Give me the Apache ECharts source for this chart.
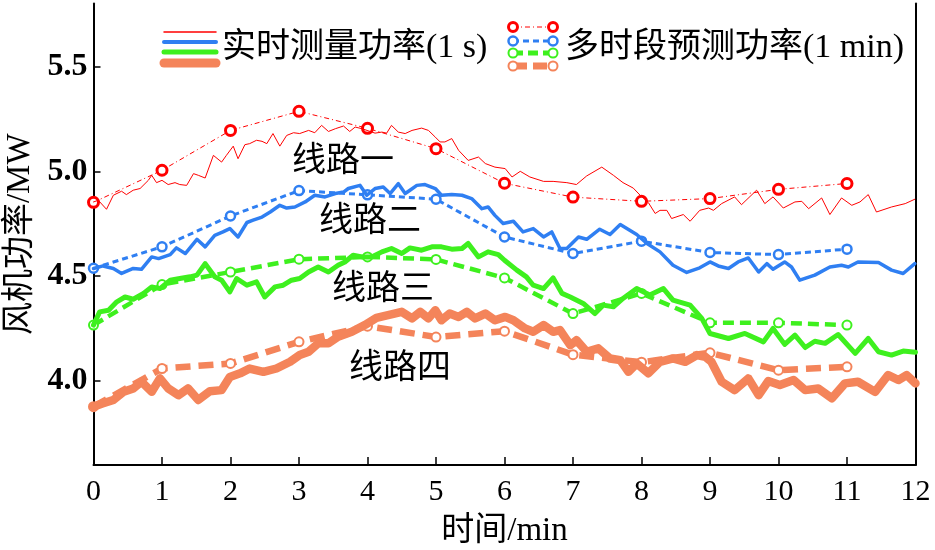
<!DOCTYPE html>
<html><head><meta charset="utf-8">
<script src="https://cdn.jsdelivr.net/npm/echarts@6/dist/echarts.min.js"></script>
<style>html,body{margin:0;padding:0;background:#fff}#c{width:935px;height:550px}</style>
</head><body><div id="c"></div>
<script>
// ---- data ----
const yTicks = [4.0, 4.5, 5.0, 5.5];
const predT = [0,1,2,3,4,5,6,7,8,9,10,11];
const predRed    = [4.852,5.005,5.195,5.286,5.205,5.108,4.943,4.877,4.857,4.870,4.914,4.942];
const predBlue   = [4.538,4.640,4.787,4.908,4.888,4.867,4.687,4.608,4.667,4.613,4.603,4.629];
const predGreen  = [4.267,4.460,4.520,4.581,4.592,4.580,4.492,4.322,4.418,4.278,4.278,4.267];
const predOrange = [3.878,4.060,4.084,4.187,4.262,4.210,4.238,4.126,4.090,4.135,4.052,4.068];

const realRed = [[0,4.854],[0.07,4.862],[0.19,4.819],[0.29,4.886],[0.41,4.905],[0.48,4.889],[0.58,4.910],[0.68,4.918],[0.80,4.957],[0.85,4.981],[0.92,4.946],[1.00,4.957],[1.09,4.937],[1.19,4.946],[1.26,4.937],[1.36,4.933],[1.46,4.989],[1.53,4.981],[1.63,4.968],[1.75,5.076],[1.87,5.044],[1.94,5.076],[2.04,5.120],[2.11,5.060],[2.21,5.127],[2.28,5.132],[2.38,5.148],[2.46,5.143],[2.53,5.132],[2.62,5.180],[2.72,5.120],[2.82,5.171],[2.92,5.184],[3.01,5.180],[3.14,5.195],[3.23,5.184],[3.33,5.219],[3.43,5.190],[3.53,5.203],[3.65,5.216],[3.74,5.190],[3.82,5.211],[3.92,5.203],[4.11,5.182],[4.21,5.187],[4.28,5.182],[4.35,5.219],[4.45,5.187],[4.55,5.180],[4.65,5.195],[4.79,5.206],[4.89,5.195],[4.99,5.163],[5.06,5.140],[5.13,5.140],[5.23,5.156],[5.33,5.100],[5.47,5.052],[5.62,5.068],[5.72,5.037],[5.86,5.020],[6.01,5.013],[6.11,4.973],[6.23,5.000],[6.37,4.973],[6.57,4.952],[6.71,4.952],[6.91,4.946],[7.05,4.937],[7.20,4.978],[7.42,5.020],[7.59,4.981],[7.73,4.946],[7.88,4.920],[7.98,4.886],[8.10,4.851],[8.20,4.799],[8.27,4.814],[8.37,4.814],[8.44,4.775],[8.61,4.794],[8.71,4.762],[8.85,4.814],[8.98,4.825],[9.05,4.814],[9.17,4.846],[9.36,4.878],[9.46,4.841],[9.68,4.910],[9.80,4.846],[9.92,4.878],[10.07,4.825],[10.24,4.854],[10.34,4.857],[10.44,4.822],[10.63,4.873],[10.75,4.794],[10.92,4.873],[11.07,4.838],[11.19,4.854],[11.31,4.889],[11.43,4.806],[11.65,4.830],[11.85,4.846],[11.99,4.867]];

const realBlue = [[0,4.537],[0.14,4.549],[0.29,4.537],[0.41,4.513],[0.58,4.537],[0.70,4.533],[0.85,4.592],[0.95,4.584],[1.12,4.603],[1.21,4.635],[1.34,4.608],[1.51,4.676],[1.63,4.640],[1.77,4.695],[1.89,4.711],[1.99,4.727],[2.11,4.687],[2.24,4.756],[2.33,4.767],[2.46,4.782],[2.58,4.806],[2.72,4.838],[2.82,4.825],[2.94,4.830],[3.09,4.854],[3.23,4.886],[3.38,4.878],[3.53,4.894],[3.65,4.901],[3.72,4.918],[3.89,4.933],[3.99,4.886],[4.11,4.918],[4.23,4.925],[4.33,4.894],[4.45,4.941],[4.55,4.894],[4.62,4.910],[4.72,4.933],[4.84,4.937],[4.99,4.918],[5.08,4.886],[5.23,4.889],[5.38,4.886],[5.52,4.870],[5.67,4.822],[5.76,4.830],[5.86,4.790],[5.98,4.751],[6.13,4.762],[6.27,4.711],[6.42,4.727],[6.57,4.687],[6.69,4.711],[6.81,4.632],[6.91,4.632],[7.08,4.687],[7.20,4.676],[7.39,4.724],[7.54,4.699],[7.69,4.746],[7.93,4.699],[8.08,4.656],[8.27,4.616],[8.46,4.552],[8.66,4.518],[8.85,4.540],[9.00,4.568],[9.12,4.549],[9.27,4.537],[9.41,4.568],[9.56,4.587],[9.71,4.520],[9.83,4.560],[9.92,4.533],[10.09,4.568],[10.19,4.544],[10.31,4.481],[10.53,4.505],[10.75,4.544],[10.92,4.552],[11.02,4.544],[11.16,4.568],[11.46,4.565],[11.65,4.529],[11.82,4.513],[11.99,4.560]];

const realGreen = [[0,4.267],[0.09,4.330],[0.22,4.338],[0.34,4.378],[0.46,4.401],[0.58,4.390],[0.73,4.418],[0.85,4.449],[0.97,4.441],[1.12,4.481],[1.26,4.489],[1.41,4.497],[1.51,4.505],[1.63,4.560],[1.77,4.497],[1.87,4.481],[1.99,4.425],[2.09,4.489],[2.24,4.457],[2.38,4.473],[2.50,4.401],[2.65,4.449],[2.77,4.457],[2.89,4.481],[3.01,4.489],[3.14,4.520],[3.28,4.544],[3.43,4.520],[3.57,4.552],[3.67,4.568],[3.79,4.600],[3.92,4.592],[4.06,4.592],[4.21,4.616],[4.35,4.632],[4.50,4.608],[4.62,4.635],[4.79,4.624],[4.94,4.640],[5.08,4.640],[5.23,4.629],[5.38,4.632],[5.47,4.656],[5.62,4.592],[5.76,4.616],[5.91,4.603],[6.00,4.576],[6.18,4.529],[6.32,4.497],[6.42,4.457],[6.57,4.441],[6.71,4.492],[6.84,4.418],[6.96,4.401],[7.15,4.370],[7.32,4.322],[7.44,4.362],[7.59,4.354],[7.73,4.394],[7.93,4.441],[8.12,4.410],[8.32,4.441],[8.46,4.386],[8.71,4.362],[8.88,4.299],[9.00,4.227],[9.27,4.203],[9.51,4.227],[9.78,4.187],[9.92,4.251],[10.09,4.175],[10.24,4.219],[10.39,4.160],[10.53,4.190],[10.68,4.180],[10.87,4.222],[11.12,4.132],[11.31,4.203],[11.46,4.140],[11.65,4.124],[11.82,4.143],[12.00,4.137]];

const realOrange = [[0,3.878],[0.14,3.894],[0.29,3.910],[0.44,3.949],[0.58,3.965],[0.70,3.997],[0.85,3.949],[0.97,4.013],[1.09,3.965],[1.24,3.933],[1.38,3.965],[1.53,3.910],[1.70,3.952],[1.87,3.957],[1.99,4.020],[2.14,4.037],[2.28,4.060],[2.48,4.044],[2.67,4.060],[2.87,4.092],[3.01,4.124],[3.14,4.140],[3.28,4.180],[3.43,4.180],[3.57,4.211],[3.77,4.235],[3.96,4.267],[4.13,4.301],[4.30,4.314],[4.50,4.330],[4.65,4.299],[4.77,4.330],[4.89,4.299],[4.99,4.338],[5.08,4.290],[5.20,4.322],[5.33,4.306],[5.45,4.330],[5.57,4.299],[5.72,4.322],[5.86,4.290],[6.01,4.306],[6.13,4.290],[6.30,4.251],[6.42,4.235],[6.57,4.267],[6.71,4.235],[6.81,4.243],[6.96,4.171],[7.05,4.195],[7.20,4.140],[7.37,4.156],[7.54,4.108],[7.69,4.100],[7.81,4.044],[7.93,4.084],[8.10,4.037],[8.27,4.092],[8.46,4.108],[8.64,4.092],[8.81,4.124],[8.93,4.116],[9.02,4.092],[9.17,3.997],[9.36,3.957],[9.56,4.013],[9.71,3.933],[9.85,4.000],[10.02,3.981],[10.22,4.005],[10.39,3.957],[10.58,3.965],[10.78,3.918],[10.97,3.989],[11.16,3.997],[11.41,3.949],[11.60,4.029],[11.75,4.005],[11.87,4.029],[12.00,3.989]];

const lineNames = ['线路一','线路二','线路三','线路四'];
const legendTexts = ['实时测量功率(1 s)','多时段预测功率(1 min)'];

// ---- styles ----
const FONT = "'Liberation Serif','Times New Roman','Noto Sans CJK SC',serif";
const C = {red:'#ff0000', blue:'#2f7ff2', green:'#3ef01e', orange:'#f4845a'};

const pair = (t, v) => t.map((x,i)=>[x, v[i]]);

function predSeries(name, data, color, width, dash, symSize, bw){
  return {name, type:'line', data:pair(predT, data), symbol:'circle', symbolSize:symSize, showSymbol:true,
    lineStyle:{color, width, type:dash}, itemStyle:{color:'#fff', borderColor:color, borderWidth:bw}, z:2};
}
function realSeries(name, data, color, width){
  return {name, type:'line', data, showSymbol:false, symbol:'none',
    lineStyle:{color, width, join:'round', cap:'round'}, z:3};
}

const chart = echarts.init(document.getElementById('c'), null, {renderer:'canvas'});

// legend graphics
const g = [];
const leftLegend = [[32,C.red,1.5],[42,C.blue,4],[52,C.green,5],[63,C.orange,9]];
leftLegend.forEach(([y,c,w])=>g.push({type:'line', shape:{x1:164,y1:y,x2:216,y2:y}, style:{stroke:c, lineWidth:w, lineCap:'round'}}));
const rightLegend = [[27,C.red,1,[5,3,1,3],3],[41,C.blue,3,[6,4],2.5],[53,C.green,5,[10,5],2],[66,C.orange,7,[14,6],2]];
rightLegend.forEach(([y,c,w,d,bw])=>{
  g.push({type:'line', shape:{x1:513,y1:y,x2:553,y2:y}, style:{stroke:c, lineWidth:w, lineDash:d}});
  g.push({type:'circle', shape:{cx:513,cy:y,r:4.5}, style:{fill:'#fff', stroke:c, lineWidth:bw}});
  g.push({type:'circle', shape:{cx:553,cy:y,r:4.5}, style:{fill:'#fff', stroke:c, lineWidth:bw}});
});
g.push({type:'text', x:222, y:48, style:{text:legendTexts[0], font:'34px '+FONT, fill:'#000', verticalAlign:'middle'}});
g.push({type:'text', x:565, y:48, style:{text:legendTexts[1], font:'34px '+FONT, fill:'#000', verticalAlign:'middle'}});
const annPos = [[343,162],[370,222],[383,290],[400,369]];
lineNames.forEach((t,i)=>g.push({type:'text', x:annPos[i][0], y:annPos[i][1], style:{text:t, font:'34px '+FONT, fill:'#000', align:'center', verticalAlign:'middle'}}));

chart.setOption({
  animation:false,
  backgroundColor:'#fff',
  grid:{left:93.5, right:19.5, top:3.5, bottom:85, containLabel:false, outerBoundsMode:'none'},
  xAxis:{type:'value', min:0, max:12, interval:1,
    axisLine:{onZero:false, lineStyle:{color:'#000', width:2}},
    axisTick:{inside:true, length:8, lineStyle:{color:'#000', width:1.5}},
    axisLabel:{color:'#000', fontSize:30, fontFamily:FONT, margin:12},
    splitLine:{show:false},
    name:'时间/min', nameLocation:'middle', nameGap:50,
    nameTextStyle:{color:'#000', fontSize:33, fontFamily:FONT}},
  yAxis:[{type:'value', min:3.6, max:5.8,
    axisLine:{show:true, onZero:false, lineStyle:{color:'#000', width:2}},
    axisTick:{show:true, inside:true, length:7, customValues:yTicks, lineStyle:{color:'#000', width:1.5}},
    axisLabel:{color:'#000', fontSize:32, fontWeight:'bold', fontFamily:FONT, margin:6, customValues:yTicks,
      formatter:v=>Number(v).toFixed(1)},
    splitLine:{show:false},
    name:'风机功率/MW', nameLocation:'middle', nameGap:55,
    nameTextStyle:{color:'#000', fontSize:33, fontFamily:FONT}},
   {type:'value', position:'right', min:3.6, max:5.8,
    axisLine:{show:true, onZero:false, lineStyle:{color:'#000', width:2}},
    axisTick:{show:false}, axisLabel:{show:false}, splitLine:{show:false}}],
  series:[
    predSeries('pRed', predRed, C.red, 1, [5,3,1,3], 10, 3),
    predSeries('pBlue', predBlue, C.blue, 3, [6,4], 9, 2.5),
    predSeries('pGreen', predGreen, C.green, 4.5, [11,6], 9, 2),
    predSeries('pOrange', predOrange, C.orange, 6.5, [15,8], 9, 2),
    realSeries('rRed', realRed, C.red, 1),
    realSeries('rBlue', realBlue, C.blue, 3.5),
    realSeries('rGreen', realGreen, C.green, 5),
    realSeries('rOrange', realOrange, C.orange, 8.5)
  ],
  graphic:g
});
</script></body></html>
